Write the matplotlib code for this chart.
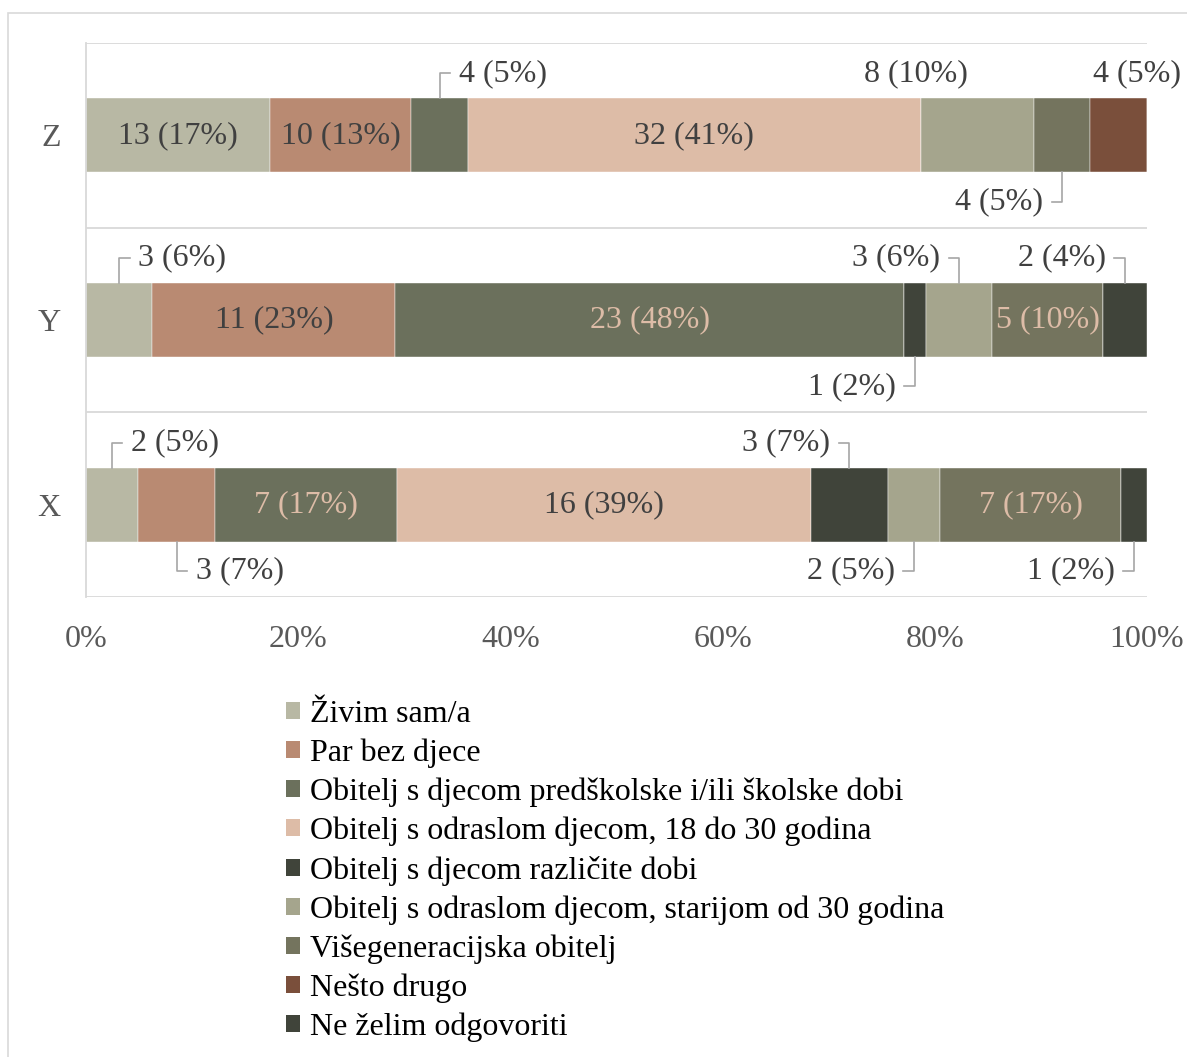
import matplotlib.pyplot as plt
import numpy as np
from matplotlib.patches import Patch, Rectangle

plt.rcParams['font.family'] = ['Liberation Serif', 'DejaVu Serif']

# kategorije (odozdo prema gore)
kategorije = ['X', 'Y', 'Z']

serije = ['Živim sam/a',
          'Par bez djece',
          'Obitelj s djecom predškolske i/ili školske dobi',
          'Obitelj s odraslom djecom, 18 do 30 godina',
          'Obitelj s djecom različite dobi',
          'Obitelj s odraslom djecom, starijom od 30 godina',
          'Višegeneracijska obitelj',
          'Nešto drugo',
          'Ne želim odgovoriti']

# broj odgovora po kategoriji [X, Y, Z]
zivim_sam = [2, 3, 13]
par_bez_djece = [3, 11, 10]
djeca_skolska = [7, 23, 4]
odrasli_18_30 = [16, 0, 32]
razlicite_dobi = [3, 1, 0]
stariji_30 = [2, 3, 8]
visegeneracijska = [7, 5, 4]
nesto_drugo = [0, 0, 4]
ne_zelim = [1, 2, 0]

# postoci kako pisu na grafu
pct_zivim_sam = [5, 6, 17]
pct_par_bez_djece = [7, 23, 13]
pct_djeca_skolska = [17, 48, 5]
pct_odrasli_18_30 = [39, 0, 41]
pct_razlicite_dobi = [7, 2, 0]
pct_stariji_30 = [5, 6, 10]
pct_visegeneracijska = [17, 10, 5]
pct_nesto_drugo = [0, 0, 5]
pct_ne_zelim = [2, 4, 0]

brojevi = [zivim_sam, par_bez_djece, djeca_skolska, odrasli_18_30, razlicite_dobi,
           stariji_30, visegeneracijska, nesto_drugo, ne_zelim]
postoci = [pct_zivim_sam, pct_par_bez_djece, pct_djeca_skolska, pct_odrasli_18_30,
           pct_razlicite_dobi, pct_stariji_30, pct_visegeneracijska, pct_nesto_drugo,
           pct_ne_zelim]

boje = ['#b8b8a4', '#b98a72', '#6b705c', '#ddbca7', '#40443a',
        '#a5a58d', '#74745e', '#7a4f3b', '#40443a']
# serije sa svijetlim tekstom unutar stupca
svijetli_tekst = [2, 6]

# oznake izvan stupca: (kategorija, serija) -> (strana, pomak u %, linija)
vanjske = {
    (2, 2): ('gore', 1.8, True),
    (2, 5): ('gore', -5.8, False),
    (2, 6): ('dolje', -1.8, True),
    (2, 7): ('gore', 1.7, False),
    (1, 0): ('gore', 1.8, True),
    (1, 4): ('dolje', -1.8, True),
    (1, 5): ('gore', -1.8, True),
    (1, 8): ('gore', -1.8, True),
    (0, 0): ('gore', 1.8, True),
    (0, 1): ('dolje', 1.8, True),
    (0, 4): ('gore', -1.8, True),
    (0, 5): ('dolje', -1.8, True),
    (0, 8): ('dolje', -1.8, True),
}

fs = 23
tamno = '#404040'
svijetlo = '#ddbca7'
siva = '#a6a6a6'
visina = 0.4

fig = plt.figure(figsize=(11.87, 10.57), dpi=100)
ax = fig.add_axes([86 / 1187, 1 - 597 / 1057, 1061 / 1187, 554 / 1057])

# okvir oko cijelog grafikona
fig.patches.append(Rectangle((8 / 1187, -0.05), 1.1, 1 - 13 / 1057 + 0.05,
                             transform=fig.transFigure, fill=False,
                             edgecolor='#d9d9d9', linewidth=1.2, zorder=0))

brojevi = np.array(brojevi, dtype=float)
ukupno = brojevi.sum(axis=0)
udjeli = brojevi / ukupno * 100
y = np.arange(len(kategorije))
lijevo = np.zeros(len(kategorije))

for i, naziv in enumerate(serije):
    ax.barh(y, udjeli[i], left=lijevo, height=visina, color=boje[i],
            edgecolor='white', linewidth=0.3, label=naziv, zorder=2)
    for k in range(len(kategorije)):
        if brojevi[i, k] == 0:
            continue
        tekst = f"{int(brojevi[i, k])} ({postoci[i][k]}%)"
        sredina = lijevo[k] + udjeli[i, k] / 2
        if (k, i) in vanjske:
            strana, dx, linija = vanjske[(k, i)]
            if strana == 'gore':
                ty = y[k] + 0.335
                rub = y[k] + visina / 2
            else:
                ty = y[k] - 0.36
                rub = y[k] - visina / 2
            tx = sredina + dx
            if linija:
                smjer = np.sign(dx)
                ax.plot([sredina, sredina, sredina + smjer * 1.0], [rub, ty, ty],
                        color=siva, linewidth=1.2, zorder=3, clip_on=False)
                ax.text(tx, ty, tekst, ha='left' if dx > 0 else 'right', va='center',
                        fontsize=fs, color=tamno)
            else:
                ax.text(tx, ty, tekst, ha='center', va='center', fontsize=fs, color=tamno)
        else:
            boja = svijetlo if i in svijetli_tekst else tamno
            ax.text(sredina, y[k], tekst, ha='center', va='center', fontsize=fs,
                    color=boja, zorder=4)
    lijevo += udjeli[i]

ax.set_xlim(0, 100)
ax.set_ylim(-0.5, 2.5)
ax.set_xticks(np.arange(0, 101, 20))
ax.set_xticklabels([f"{v}%" for v in range(0, 101, 20)])
ax.set_yticks(y)
ax.set_yticklabels(kategorije)
ax.set_yticks([-0.5, 0.5, 1.5, 2.5], minor=True)
ax.grid(axis='y', which='minor', color='#d9d9d9', linewidth=1.3, zorder=0)
ax.tick_params(axis='both', which='both', length=0, labelsize=fs, labelcolor='#595959')
ax.tick_params(axis='x', pad=20)
ax.tick_params(axis='y', pad=18)
for s in ['top', 'right', 'bottom']:
    ax.spines[s].set_visible(False)
ax.spines['left'].set_color('#d9d9d9')
ax.spines['left'].set_linewidth(1.3)

ruckice = [Patch(facecolor=boje[i], edgecolor='none') for i in range(len(serije))]
fig.legend(ruckice, serije, loc='upper left', bbox_to_anchor=(286 / 1187, 1 - 700 / 1057),
           frameon=False, fontsize=fs, handlelength=0.45, handleheight=0.45,
           handletextpad=0.3, labelspacing=0.3, borderpad=0, borderaxespad=0,
           labelcolor='black')

fig.savefig('out.png', dpi=100)
